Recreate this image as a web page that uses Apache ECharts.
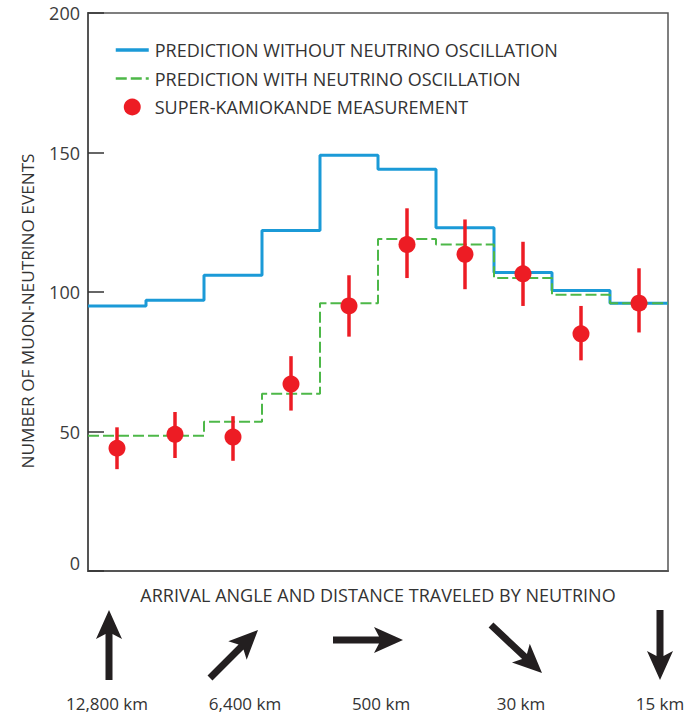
<!DOCTYPE html>
<html>
<head>
<meta charset="utf-8">
<script src="https://cdn.jsdelivr.net/npm/echarts@6/dist/echarts.min.js"></script>
<style>
html,body{margin:0;padding:0;background:#fff;}
#chart{width:696px;height:716px;}
</style>
</head>
<body>
<div id="chart"></div>
<script>
// ---- data ----
const binCount = 10;
const noOscillation = [95, 97, 106, 122, 149, 144, 123, 107, 100.5, 96];
const withOscillation = [48.5, 48.5, 53.5, 63.5, 96, 119, 117, 105, 99, 96];
const measured = [44, 49, 48, 67, 95, 117, 113.5, 106.5, 85, 96];
const errorLow = [36.5, 40.5, 39.5, 57.5, 84, 105, 101, 95, 75.5, 85.5];
const errorHigh = [51.5, 57, 55.5, 77, 106, 130, 126, 118, 95, 108.5];
const yTicks = [0, 50, 100, 150, 200];
const seriesNames = ['PREDICTION WITHOUT NEUTRINO OSCILLATION', 'PREDICTION WITH NEUTRINO OSCILLATION', 'SUPER-KAMIOKANDE MEASUREMENT'];
const distanceLabels = ['12,800 km', '6,400 km', '500 km', '30 km', '15 km'];

const FONT = '"Open Sans", Roboto, "Noto Sans", sans-serif';
const TXT = '#333333';
const FRAME = '#555555';

function stepData(vals) {
  const d = vals.map((v, i) => [i, v]);
  d.push([binCount, vals[vals.length - 1]]);
  return d;
}

function arrowPts(x1, y1, x2, y2) {
  const w = 7, hw = 26, hl = 29, notch = 5;
  const dx = x2 - x1, dy = y2 - y1, L = Math.hypot(dx, dy);
  const ux = dx / L, uy = dy / L, px = -uy, py = ux;
  const bx = x2 - ux * hl, by = y2 - uy * hl;
  const nx = x2 - ux * (hl - notch), ny = y2 - uy * (hl - notch);
  return [
    [x1 + px * w / 2, y1 + py * w / 2],
    [nx + px * w / 2, ny + py * w / 2],
    [bx + px * hw / 2, by + py * hw / 2],
    [x2, y2],
    [bx - px * hw / 2, by - py * hw / 2],
    [nx - px * w / 2, ny - py * w / 2],
    [x1 - px * w / 2, y1 - py * w / 2]
  ];
}

const arrows = [
  [109, 680, 109, 610],
  [210, 678, 258, 630],
  [333, 640, 403, 640],
  [491, 625, 542, 673],
  [660, 610, 660, 680]
];
const labelX = [107, 245, 381, 521, 660];

const graphics = [];
arrows.forEach(a => {
  graphics.push({ type: 'polygon', shape: { points: arrowPts(a[0], a[1], a[2], a[3]) }, style: { fill: '#231f20' }, silent: true });
});
distanceLabels.forEach((t, i) => {
  graphics.push({ type: 'text', x: labelX[i], y: 703, style: { text: t, fontFamily: FONT, fontSize: 17, lineHeight: 18, fill: TXT, align: 'center', verticalAlign: 'middle' } });
});

const hiddenSymbol = { color: 'rgba(0,0,0,0)', borderWidth: 0, opacity: 0 };

const chart = echarts.init(document.getElementById('chart'), null, { renderer: 'svg' });
chart.setOption({
  animation: false,
  backgroundColor: '#ffffff',
  grid: { left: 88, right: 28, top: 13, bottom: 145, show: true, borderColor: FRAME, borderWidth: 1.5, backgroundColor: 'transparent' },
  legend: {
    data: [
      { name: seriesNames[0], itemStyle: hiddenSymbol, lineStyle: { width: 3.5 } },
      { name: seriesNames[1], itemStyle: hiddenSymbol, lineStyle: { width: 2.5 } },
      { name: seriesNames[2] }
    ],
    orient: 'vertical',
    left: 109,
    top: 36,
    itemWidth: 33,
    itemHeight: 17,
    itemGap: 10.5,
    selectedMode: false,
    textStyle: { fontFamily: FONT, fontSize: 18, color: TXT, padding: [0, 0, 0, 1] }
  },
  xAxis: {
    type: 'value', min: 0, max: binCount,
    name: 'ARRIVAL ANGLE AND DISTANCE TRAVELED BY NEUTRINO',
    nameLocation: 'middle', nameGap: 15,
    nameTextStyle: { fontFamily: FONT, fontSize: 18, color: TXT },
    axisLine: { show: true, onZero: false, lineStyle: { color: FRAME, width: 2 } },
    axisTick: { show: false }, axisLabel: { show: false }, splitLine: { show: false }
  },
  yAxis: {
    type: 'value', min: 0, max: 200, interval: 50,
    name: 'NUMBER OF MUON-NEUTRINO EVENTS',
    nameLocation: 'middle', nameGap: 52,
    nameTextStyle: { fontFamily: FONT, fontSize: 17.2, color: TXT, padding: [0, 38, 0, 0] },
    axisLine: { show: true, onZero: false, lineStyle: { color: FRAME, width: 2 } },
    axisTick: { show: true, inside: true, length: 16, lineStyle: { color: '#333', width: 1.5 } },
    axisLabel: {
      margin: 8, fontFamily: FONT, fontSize: 18, color: '#3c3c3c',
      formatter: v => (v === 0 ? '{z|0}' : String(v)),
      rich: { z: { fontFamily: FONT, fontSize: 18, color: '#3c3c3c', padding: [0, 0, 16, 0] } }
    },
    splitLine: { show: false }
  },
  graphic: graphics,
  series: [
    {
      name: seriesNames[0], type: 'line', step: 'end', symbol: 'circle', showSymbol: false,
      data: stepData(noOscillation),
      lineStyle: { color: '#1b9ad7', width: 3 }, itemStyle: { color: '#1b9ad7' }, z: 2
    },
    {
      name: seriesNames[1], type: 'line', step: 'end', symbol: 'circle', showSymbol: false,
      data: stepData(withOscillation),
      lineStyle: { color: '#4db848', width: 2, type: [11, 4] }, itemStyle: { color: '#4db848' }, z: 3
    },
    {
      name: 'errors', type: 'custom', z: 4,
      data: measured.map((v, i) => [i + 0.5, errorLow[i], errorHigh[i]]),
      renderItem: (params, api) => {
        const lo = api.coord([api.value(0), api.value(1)]);
        const hi = api.coord([api.value(0), api.value(2)]);
        return { type: 'line', shape: { x1: lo[0], y1: lo[1], x2: hi[0], y2: hi[1] }, style: { stroke: '#ed1c24', lineWidth: 3.5 } };
      }
    },
    {
      name: seriesNames[2], type: 'scatter', symbol: 'circle', symbolSize: 17,
      data: measured.map((v, i) => [i + 0.5, v]),
      itemStyle: { color: '#ed1c24', opacity: 1 }, z: 5
    }
  ]
});
</script>
</body>
</html>
